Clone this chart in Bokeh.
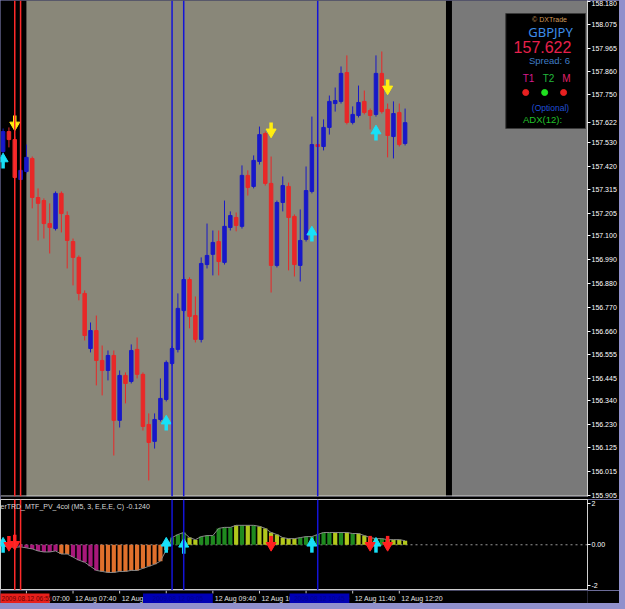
from bokeh.plotting import figure
from bokeh.models import (Range1d, FixedTicker, PrintfTickFormatter, Span, Label,
                          BoxAnnotation, ColumnDataSource)
from bokeh.core.properties import value
from bokeh.layouts import column
from bokeh.embed import file_html
from bokeh.resources import INLINE

# ---------------- data ----------------
bar_index = list(range(-4, 66))   # 5-minute bars, 0 = 12 Aug 07:00

opens = [157.489, 157.581, 157.544, 157.360, 157.397, 157.457, 157.277, 157.263, 157.157, 157.134,
         157.296, 157.194, 157.074, 157.001, 156.835, 156.581, 156.664, 156.526, 156.480, 156.549,
         156.250, 156.457, 156.429, 156.577, 156.462, 156.231, 156.153, 156.254, 156.346, 156.512,
         156.577, 156.756, 156.899, 156.733, 156.623, 156.968, 157.015, 157.074, 156.978, 157.139,
         157.185, 157.144, 157.379, 157.328, 157.443, 157.572, 157.342, 156.964, 157.254, 157.328,
         157.190, 156.964, 157.084, 157.305, 157.521, 157.512, 157.600, 157.710, 157.720, 157.853,
         157.623, 157.655, 157.720, 157.678, 157.660, 157.849, 157.683, 157.558, 157.669, 157.526]
highs = [157.595, 157.600, 157.558, 157.411, 157.521, 157.466, 157.319, 157.273, 157.250, 157.305,
         157.305, 157.213, 157.088, 157.010, 156.849, 156.701, 156.733, 156.595, 156.572, 156.572,
         156.480, 156.471, 156.600, 156.632, 156.471, 156.282, 156.282, 156.443, 156.526, 156.591,
         156.835, 156.909, 156.909, 156.821, 157.001, 157.157, 157.125, 157.125, 157.263, 157.213,
         157.208, 157.425, 157.402, 157.471, 157.604, 157.581, 157.466, 157.263, 157.374, 157.346,
         157.199, 157.222, 157.420, 157.650, 157.526, 157.637, 157.747, 157.784, 157.881, 157.932,
         157.697, 157.793, 157.770, 157.687, 157.932, 157.950, 157.710, 157.720, 157.710, 157.687]
lows = [157.480, 157.508, 157.365, 157.351, 157.388, 157.227, 157.079, 157.088, 157.019, 157.125,
        157.116, 156.950, 156.872, 156.803, 156.618, 156.563, 156.411, 156.365, 156.434, 156.088,
        156.217, 156.328, 156.420, 156.443, 156.203, 155.973, 156.120, 156.245, 156.337, 156.503,
        156.563, 156.747, 156.674, 156.609, 156.609, 156.950, 156.918, 156.918, 156.968, 157.125,
        157.121, 157.134, 157.286, 157.319, 157.429, 157.332, 156.839, 156.955, 157.213, 156.941,
        156.913, 156.890, 157.074, 157.296, 157.508, 157.494, 157.567, 157.673, 157.710, 157.614,
        157.614, 157.646, 157.660, 157.591, 157.650, 157.664, 157.462, 157.457, 157.512, 157.517]
closes = [157.581, 157.544, 157.369, 157.402, 157.462, 157.277, 157.250, 157.157, 157.139, 157.296,
          157.203, 157.079, 157.001, 156.835, 156.641, 156.664, 156.526, 156.480, 156.549, 156.250,
          156.457, 156.420, 156.572, 156.462, 156.222, 156.148, 156.254, 156.351, 156.517, 156.581,
          156.766, 156.899, 156.729, 156.623, 156.973, 157.010, 157.070, 156.982, 157.144, 157.194,
          157.148, 157.379, 157.323, 157.448, 157.567, 157.342, 156.964, 157.254, 157.332, 157.185,
          156.968, 157.079, 157.309, 157.521, 157.512, 157.600, 157.720, 157.724, 157.849, 157.623,
          157.660, 157.715, 157.669, 157.655, 157.849, 157.673, 157.563, 157.664, 157.521, 157.622]

price_ticks = [158.180, 158.075, 157.965, 157.860, 157.750, 157.645, 157.530, 157.420, 157.315,
               157.205, 157.100, 156.990, 156.880, 156.770, 156.660, 156.555, 156.445, 156.340,
               156.230, 156.125, 156.015, 155.905]
last_price = 157.622

time_ticks = [0, 8, 16, 24, 32, 40, 48, 56, 64]
time_labels = ["12 Aug 07:00", "12 Aug 07:40", "12 Aug 08:20", "12 Aug 09:00", "12 Aug 09:40",
               "12 Aug 10:20", "12 Aug 11:00", "12 Aug 11:40", "12 Aug 12:20"]

# signal arrows on the price chart (bar index, price of arrow tip)
buy_x = [-4, 24, 49, 60]
buy_y = [157.471, 156.263, 157.134, 157.600]
sell_x = [-2, 42, 62]
sell_y = [157.595, 157.563, 157.761]

# vertical line objects and their time-scale tags
blue_lines = [25, 27, 50]
red_lines = [-2, -1]
red_tag_text = "2009.08.12 06:55"
blue_tag_x = [26, 50.3]
blue_tag_text = ["2009.08.12 09:05", "2009.08.12 10:45"]

# indicator histogram (TRD_MTF_PV_4col)
hist_values = [-0.05, -0.10, -0.12, -0.10,
               -0.15, -0.20, -0.30, -0.35, -0.35, -0.30, -0.45, -0.45, -0.60, -0.75, -0.85, -1.05,
               -1.25, -1.30, -1.35, -1.35, -1.30, -1.30, -1.25, -1.25, -1.15, -1.05, -0.95, -0.80, -0.25,
               0.35, 0.50, 0.60, 0.35, 0.25, 0.40, 0.45, 0.45, 0.80, 0.85, 0.85, 0.95, 0.95, 0.95,
               0.95, 0.90, 0.80, 0.60, 0.50, 0.35, 0.30, 0.30, 0.35, 0.40, 0.40, 0.50, 0.60, 0.60,
               0.60, 0.60, 0.60, 0.55, 0.55, 0.45, 0.35, 0.30, 0.30, 0.25, 0.25, 0.25, 0.20]
hist_state = ["M", "M", "M", "M",
              "M", "M", "M", "M", "M", "M", "O", "O", "M", "M", "M", "M", "M", "O", "O", "O",
              "O", "O", "O", "O", "O", "O", "O", "O", "O",
              "G", "G", "G", "Y", "Y", "G", "G", "G", "G", "G", "G", "Y", "G", "Y", "G", "Y",
              "Y", "Y", "Y", "Y", "Y", "Y", "G", "G", "G", "G", "G", "G", "Y", "G", "Y", "G",
              "Y", "Y", "Y", "Y", "G", "Y", "Y", "Y", "Y"]
ind_buy_x = [-4, 24, 27, 49, 60]
ind_buy_y = [0.25, 0.25, 0.20, 0.25, 0.25]
ind_sell_x = [-3, -2, 42, 59, 62]
ind_sell_y = [-0.20, -0.15, -0.20, -0.20, -0.20]

# ---------------- layout constants ----------------
PX_PER_BAR = 5.846
X_LEFT = -4.447
FRAME_W = 589
MAIN_H = 496
P_TOP, P_BOT = 158.185, 155.899
IND_TOP, IND_BOT = 2.21, -2.23
IND_H = 91
STRIP_H = 13
FONT = "Liberation Sans"
BULL, BEAR = "#1818c8", "#e82828"


def px_x(px):
    return X_LEFT + px / PX_PER_BAR


def px_y(py):
    return P_TOP - py * (P_TOP - P_BOT) / MAIN_H


def draw_arrows(fig, xs, ys, up, color, ppx):
    if up:
        head = [y - 3.5 * ppx for y in ys]
        s0 = [y - 5 * ppx for y in ys]
        s1 = [y - 13 * ppx for y in ys]
        marker = "triangle"
    else:
        head = [y + 3.5 * ppx for y in ys]
        s0 = [y + 5 * ppx for y in ys]
        s1 = [y + 13 * ppx for y in ys]
        marker = "inverted_triangle"
    fig.segment(x0=xs, y0=s0, x1=xs, y1=s1, line_color=color, line_width=3.5)
    fig.scatter(xs, head, marker=marker, size=10, fill_color=color, line_color=color)


def style_right_axis(ax):
    ax.major_label_text_font = FONT
    ax.major_label_text_font_size = "7px"
    ax.major_label_text_color = "white"
    ax.major_label_standoff = 1
    ax.major_tick_out = 3
    ax.major_tick_in = 0
    ax.major_tick_line_color = "white"
    ax.minor_tick_line_color = None
    ax.axis_line_color = "#d0d0d0"


x_range = Range1d(X_LEFT, X_LEFT + FRAME_W / PX_PER_BAR)

# ---------------- main price chart ----------------
main = figure(width=619, height=MAIN_H + 3, x_range=x_range, y_range=Range1d(P_BOT, P_TOP),
              x_axis_location=None, y_axis_location="right", toolbar_location=None,
              output_backend="svg", min_border_left=0, min_border_right=30,
              min_border_top=0, min_border_bottom=3)
main.background_fill_color = "black"
main.border_fill_color = "black"
main.outline_line_color = None
main.xgrid.visible = False
main.ygrid.visible = False

ya = main.yaxis[0]
# the current-price tag hides the neighbouring 157.645 label
axis_ticks = [t for t in price_ticks if abs(t - last_price) > 0.03] + [last_price]
ya.ticker = FixedTicker(ticks=axis_ticks)
ya.formatter = PrintfTickFormatter(format="%.3f")
style_right_axis(ya)

# chart background regions
main.add_layout(BoxAnnotation(left=px_x(26), right=px_x(447), fill_color="#898779",
                              fill_alpha=1, line_color=None, level="underlay"))
main.add_layout(BoxAnnotation(left=px_x(453), right=px_x(589), fill_color="#797979",
                              fill_alpha=1, line_color=None, level="underlay"))
main.add_layout(Span(location=px_y(495.5), dimension="width", line_color="#d0d0d0", line_width=1))

for xv in red_lines:
    main.add_layout(Span(location=xv, dimension="height", line_color="#ff2a2a", line_width=1.5))
for xv in blue_lines:
    main.add_layout(Span(location=xv, dimension="height", line_color="#1414d8", line_width=1.5))

cols = [BULL if c >= o else BEAR for o, c in zip(opens, closes)]
src = ColumnDataSource(dict(x=bar_index, h=highs, l=lows,
                            top=[max(o, c) for o, c in zip(opens, closes)],
                            bot=[min(o, c) for o, c in zip(opens, closes)], col=cols))
main.segment(x0="x", y0="l", x1="x", y1="h", line_color="col", line_width=1, source=src)
main.vbar(x="x", width=0.6, top="top", bottom="bot", fill_color="col", line_color="col", source=src)

ppx_main = (P_TOP - P_BOT) / MAIN_H
draw_arrows(main, buy_x, buy_y, True, "#18e0f8", ppx_main)
draw_arrows(main, sell_x, sell_y, False, "#ffee10", ppx_main)

# info panel
main.quad(left=px_x(507), right=px_x(587), top=px_y(13), bottom=px_y(128),
          fill_color="black", line_color="#3a3a3a")


def info(text, x, y, size, color, font="Noto Sans"):
    main.add_layout(Label(x=x, y=MAIN_H - y, x_units="screen", y_units="screen", text=text,
                          text_font=font, text_font_size=size, text_color=color,
                          text_align="center", text_baseline="middle"))


info("© DXTrade", 549, 19, "7px", "#d09a5a", FONT)
info("GBPJPY", 550, 31, "13px", "#3c8ce6")
info(f"{last_price:.3f}", 542, 46, "16px", "#e8204c", FONT)
info("Spread: 6", 549, 60, "9.5px", "#3f7cc4", FONT)
info("T1", 528, 78, "10px", "#d81b8c", FONT)
info("T2", 548, 78, "10px", "#22b83c", FONT)
info("M", 566, 78, "10px", "#e0206a", FONT)
info("(Optional)", 550, 107, "8.5px", "#2050d8", FONT)
info("ADX(12):", 542, 119, "9.5px", "#22c02a", FONT)
main.scatter([px_x(527), px_x(546), px_x(565)], [px_y(92)] * 3, size=6,
             color=["#e82020", "#20e020", "#e82020"])

# ---------------- indicator window ----------------
ind = figure(width=619, height=IND_H, x_range=x_range, y_range=Range1d(IND_BOT, IND_TOP),
             x_axis_location=None, y_axis_location="right", toolbar_location=None,
             output_backend="svg", min_border_left=0, min_border_right=30,
             min_border_top=0, min_border_bottom=0)
ind.background_fill_color = "black"
ind.border_fill_color = "black"
ind.outline_line_color = "#d0d0d0"
ind.xgrid.visible = False
ind.ygrid.visible = False

iy = ind.yaxis[0]
iy.ticker = FixedTicker(ticks=[-2, 0, 2])
iy.major_label_overrides = {2: "2", 0: "0.00", -2: "-2"}
style_right_axis(iy)

for xv in red_lines:
    ind.add_layout(Span(location=xv, dimension="height", line_color="#ff2a2a", line_width=1.5))
for xv in blue_lines:
    ind.add_layout(Span(location=xv, dimension="height", line_color="#1414d8", line_width=1.5))

ind.add_layout(Span(location=0, dimension="width", line_color="#9a9a9a", line_width=1,
                    line_dash="2 3", level="underlay"))

state_colors = {"G": "#1f8a1f", "Y": "#b2c81c", "O": "#e0702c", "M": "#a8187a"}
ind.vbar(x=bar_index, top=hist_values, bottom=0, width=0.72,
         fill_color=[state_colors[s] for s in hist_state], line_color=None)
ind.line(bar_index, hist_values, line_color="#8a8a8a", line_width=1)

ppx_ind = (IND_TOP - IND_BOT) / IND_H
draw_arrows(ind, ind_buy_x, ind_buy_y, True, "#18e0f8", ppx_ind)
draw_arrows(ind, ind_sell_x, ind_sell_y, False, "#ff2020", ppx_ind)

ind.add_layout(Label(x=0, y=IND_H - 7, x_units="screen", y_units="screen",
                     text="erTRD_MTF_PV_4col (M5, 3, E,E,E, C) -0.1240", text_font=FONT,
                     text_font_size="7px", text_color="#d8d8d8", text_align="left",
                     text_baseline="middle"))

# ---------------- time scale strip ----------------
tax = figure(width=619, height=STRIP_H, x_range=x_range, y_range=Range1d(STRIP_H, 0),
             x_axis_location=None, y_axis_location=None, toolbar_location=None,
             output_backend="svg", min_border_left=0, min_border_right=30,
             min_border_top=0, min_border_bottom=0)
tax.background_fill_color = "black"
tax.border_fill_color = "black"
tax.outline_line_color = None
tax.xgrid.visible = False
tax.ygrid.visible = False

# tick marks and time labels (label text starts just right of its tick)
tax.segment(x0=time_ticks, y0=[0] * len(time_ticks), x1=time_ticks, y1=[3] * len(time_ticks),
            line_color="#c8c8c8", line_width=1)
tax.text(x=time_ticks, y=[7.5] * len(time_ticks), text=time_labels, x_offset=2,
         text_font=value(FONT), text_font_size="7px", text_color="#e0e0e0",
         text_align="left", text_baseline="middle")

# tags of the vertical line objects on the time scale
bar_px = 1 / PX_PER_BAR
tax.quad(left=[red_lines[1] - 26 * bar_px], right=[red_lines[1] + 29 * bar_px],
         top=[3], bottom=[12.5], fill_color="#e8201c", line_color=None)
tax.text(x=[red_lines[1]], y=[7.5], text=[red_tag_text], x_offset=-19,
         text_font=value(FONT), text_font_size="6.5px", text_color="#6a0000",
         text_align="left", text_baseline="middle")
tax.quad(left=[blue_tag_x[0] - 35 * bar_px, blue_tag_x[1] - 30 * bar_px],
         right=[blue_tag_x[0] + 35 * bar_px, blue_tag_x[1] + 30 * bar_px],
         top=[3, 3], bottom=[12.5, 12.5], fill_color="#0000b4", line_color=None)
tax.text(x=blue_tag_x, y=[7.5, 7.5], text=blue_tag_text,
         text_font=value(FONT), text_font_size="6.5px", text_color="#000090",
         text_align="center", text_baseline="middle")

layout = column(main, ind, tax, width=625, height=609, spacing=0,
                styles={"background-color": "#9090cc"})

open("out.html", "w").write(file_html(layout, INLINE))
